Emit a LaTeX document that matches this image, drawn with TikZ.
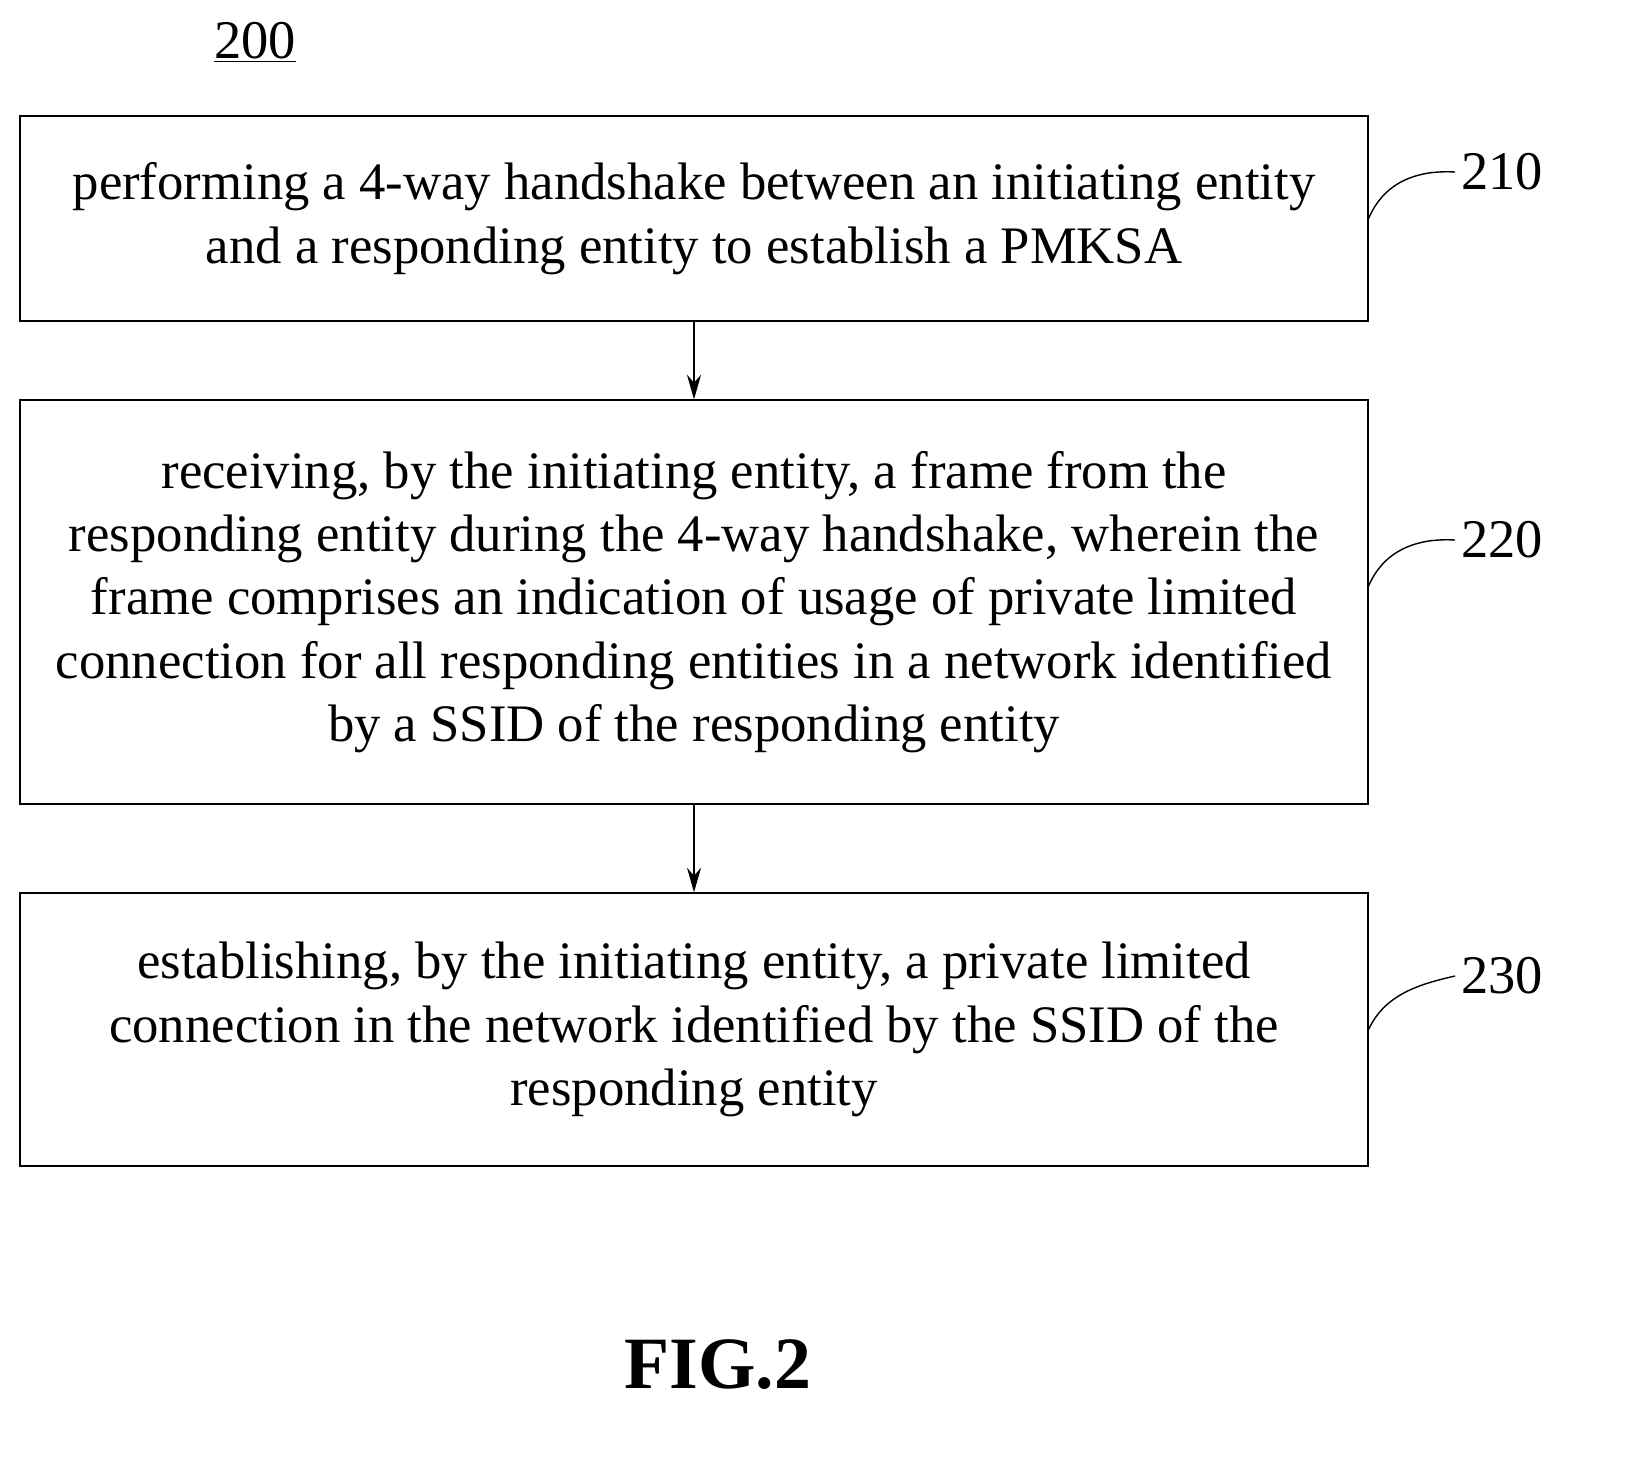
\documentclass[tikz,border=0pt]{standalone}
\usepackage{fontspec}
\setmainfont{Liberation Serif}
\usetikzlibrary{positioning,arrows.meta}
\tikzset{
  stepbox/.style={draw, line width=0.8pt, minimum width=26.96cm, align=center,
    inner sep=0pt, font=\fontsize{30}{36}\selectfont},
  reflabel/.style={font=\fontsize{31}{36}\selectfont, anchor=west},
  arr/.style={-{Stealth[length=14pt,width=8pt]}, line width=0.8pt}
}
\begin{document}
\begin{tikzpicture}[x=0.02cm,y=-0.02cm]
\useasboundingbox (0,0) rectangle (1636,1468);
% steps
\node[stepbox, minimum height=4.1cm] (s210) at (694,218.5) {performing a 4-way handshake between an initiating entity\\and a responding entity to establish a PMKSA};
\node[stepbox, minimum height=8.08cm] (s220) at (694,602) {receiving, by the initiating entity, a frame from the\\responding entity during the 4-way handshake, wherein the\\frame comprises an indication of usage of private limited\\connection for all responding entities in a network identified\\by a SSID of the responding entity};
\node[stepbox, minimum height=5.46cm] (s230) at (694,1029.5) {establishing, by the initiating entity, a private limited\\connection in the network identified by the SSID of the\\responding entity};

\draw[arr] (s210) -- (s220);
\draw[arr] (s220) -- (s230);

% reference numbers
\node[reflabel] (l210) at (1455,172) {210};
\node[reflabel] (l220) at (1455,540) {220};
\node[reflabel] (l230) at (1455,976) {230};
\draw[line width=0.8pt] (s210.east) .. controls (1385,180) and (1420,170) .. (l210.west);
\draw[line width=0.8pt] ([yshift=0.32cm]s220.east) .. controls (1385,548) and (1420,538) .. (l220.west);
\draw[line width=0.8pt] (s230.east) .. controls (1385,994) and (1420,984) .. (l230.west);

\node[font=\fontsize{31}{36}\selectfont] (fignum) at (255,42) {\underline{200}};
\node[font=\bfseries\fontsize{42}{48}\selectfont] (caption) at (718,1365) {FIG.2};
\end{tikzpicture}
\end{document}
